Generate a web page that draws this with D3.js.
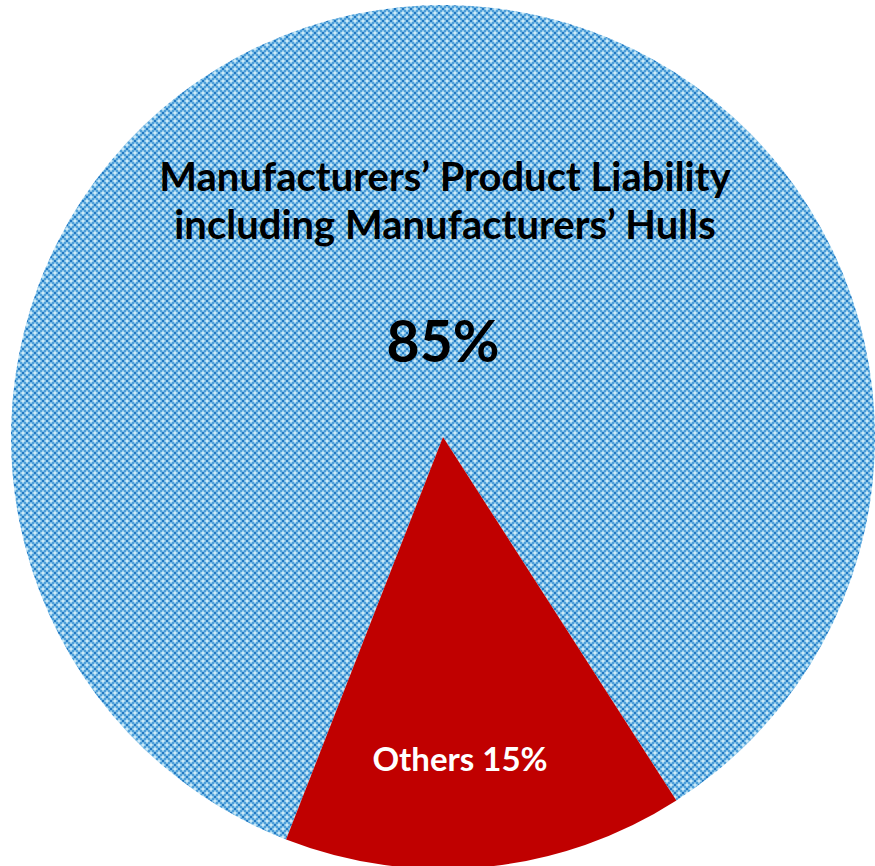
<!DOCTYPE html>
<html><head><meta charset="utf-8">
<script src="https://cdn.jsdelivr.net/npm/d3@7"></script>
<style>html,body{margin:0;padding:0;background:#fff;}</style>
</head><body>
<svg id="chart" width="875" height="866"></svg>
<script>
const categories = ["Manufacturers’ Product Liability including Manufacturers’ Hulls", "Others"];
const values = [85, 15];
const labelLines = [["Manufacturers’ Product Liability", "including Manufacturers’ Hulls"], ["Others 15%"]];
const pctLabels = ["85%", ""];

const svg = d3.select("#chart");
const cx = 443, cy = 437, R = 432;

const defs = svg.append("defs");
const pat = defs.append("pattern").attr("id","weave").attr("patternUnits","userSpaceOnUse")
  .attr("width",8).attr("height",8);
pat.append("rect").attr("width",8).attr("height",8).attr("fill","#4e9fd9");
// dark spots at (4,0) and (0,4)
[[3,7],[7,3]].forEach(([x,y]) => {
  pat.append("rect").attr("x",x).attr("y",y).attr("width",2).attr("height",2).attr("fill","#2178c2");
  pat.append("rect").attr("x",(x+8)%8 - 8 + 8).attr("y",y).attr("width",0).attr("height",0);
});
pat.append("rect").attr("x",-1).attr("y",3).attr("width",2).attr("height",2).attr("fill","#2178c2");
pat.append("rect").attr("x",3).attr("y",-1).attr("width",2).attr("height",2).attr("fill","#2178c2");
// light cross centered at (4,4)? Use centers at (0,0)&(4,4) offset: put crosses at (4,4) and (0,0)
function cross(x, y){
  pat.append("rect").attr("x",x-2.5).attr("y",y-1).attr("width",5).attr("height",2).attr("fill","#9fd2ee");
  pat.append("rect").attr("x",x-1).attr("y",y-2.5).attr("width",2).attr("height",5).attr("fill","#9fd2ee");
  pat.append("rect").attr("x",x-1).attr("y",y-1).attr("width",2).attr("height",2).attr("fill","#cbe9f8");
}
// crosses at (0,0) corners & (4,4) shifted so darks sit between
cross(4,4); cross(0,0); cross(8,0); cross(0,8); cross(8,8);

const colors = ["url(#weave)", "#c00000"];

const startDeg = 147.3 - 0.85*360;
const pie = d3.pie().sort(null).value(d => d)
  .startAngle(startDeg*Math.PI/180).endAngle((startDeg+360)*Math.PI/180);
const arcs = pie(values);
const arc = d3.arc().innerRadius(0).outerRadius(R);

const g = svg.append("g").attr("transform", `translate(${cx},${cy})`);
g.selectAll("path").data(arcs).join("path")
  .attr("d", arc).attr("fill", (d,i) => colors[i]);

const font = "'Lato','Open Sans',sans-serif";
const t1 = svg.append("text").attr("text-anchor","middle")
  .attr("font-family", font).attr("font-weight", 700).attr("font-size", 40).attr("fill","#000");
labelLines[0].forEach((l, i) => {
  t1.append("tspan").attr("x", 445).attr("y", 191 + i*48).text(l);
});
svg.append("text").attr("x", 443).attr("y", 362).attr("text-anchor","middle")
  .attr("font-family", font).attr("font-weight", 700).attr("font-size", 57).attr("fill","#000")
  .text(pctLabels[0]);
svg.append("text").attr("x", 460).attr("y", 771).attr("text-anchor","middle")
  .attr("font-family", font).attr("font-weight", 700).attr("font-size", 33).attr("fill","#fff")
  .text(labelLines[1][0]);
</script>
</body></html>
